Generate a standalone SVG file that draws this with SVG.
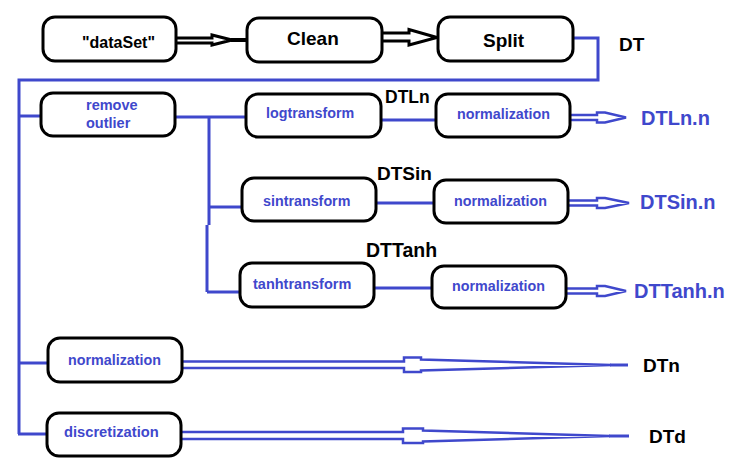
<svg xmlns="http://www.w3.org/2000/svg" width="745" height="476" viewBox="0 0 745 476">
<style>
.box{fill:#fff;stroke:#000;stroke-width:3}
.blk{font-family:"Liberation Sans",Arial,sans-serif;font-weight:bold;fill:#000}
.blu{font-family:"Liberation Sans",Arial,sans-serif;font-weight:bold;fill:#3F48CC}
.bl{fill:none;stroke:#3F48CC;stroke-width:3}
.bla{fill:#fff;stroke:#3F48CC;stroke-width:2.5;stroke-linejoin:miter}
.ka{fill:#fff;stroke:#000;stroke-width:3}
</style>
<rect width="745" height="476" fill="#fff"/>
<g id="connectors">
<path class="bl" d="M573,38 H598 V80 H19 V434"/>
<path class="bl" d="M19,116 H41"/>
<path class="bl" d="M175,117 H246"/>
<path class="bl" d="M209,117 V225 M207,225 V292"/>
<path class="bl" d="M209,207 H242"/>
<path class="bl" d="M207,292 H240"/>
<path class="bl" d="M381,120 H436"/>
<path class="bl" d="M376,203 H434"/>
<path class="bl" d="M374,288 H432"/>
<path class="bl" d="M18,363 H48"/>
<path class="bl" d="M18,434 H47"/>
<path class="ka" d="M177,38 H212 V35 L232,40 L212,45 V43 H177"/>
<path d="M231,40 H247" stroke="#000" stroke-width="4"/>
<path class="ka" d="M382,33 H409 V29.5 L437,37.5 L409,45 V41 H382"/>
<path class="bla" d="M570,115 H597 V112.5 H605 L626,117.5 L605,122.5 H597 V120 H570"/>
<path class="bla" d="M568,200.5 H597 V198 H605 L629,203 L605,208 H597 V205.5 H568"/>
<path class="bla" d="M566,288.5 H597 V286 H605 L626,291 L605,296 H597 V293.5 H566"/>
<path class="bla" d="M183,361.5 H404 V357.5 H421 V359.5 L611,365 L421,370.5 V372 H404 V368 H183"/>
<path class="bl" d="M610,365 H628"/>
<path class="bla" d="M182,432 H403 V428.5 H423 V430.5 L610,436 L423,441.5 V443 H403 V439 H182"/>
<path class="bl" d="M609,436 H629"/>
</g>
<g id="dataset"><rect class="box" x="43" y="17" width="133" height="44" rx="12"/><text class="blk" x="82" y="48" font-size="16">"dataSet"</text></g>
<g id="clean"><rect class="box" x="247" y="18" width="135" height="44" rx="12"/><text class="blk" x="287" y="45" font-size="19">Clean</text></g>
<g id="split"><rect class="box" x="438" y="17" width="135" height="44" rx="12"/><text class="blk" x="483" y="47" font-size="19">Split</text></g>
<g id="lbl-dt"><text class="blk" x="619" y="51" font-size="19">DT</text></g>
<g id="remove-outlier"><rect class="box" x="41" y="93" width="134" height="43" rx="12"/><text class="blu" x="86" y="110" font-size="14.5">remove</text><text class="blu" x="86" y="128" font-size="14.5">outlier</text></g>
<g id="logtransform"><rect class="box" x="246" y="94" width="135" height="43" rx="12"/><text class="blu" x="266" y="118" font-size="14.3">logtransform</text></g>
<g id="lbl-dtln"><text class="blk" x="385" y="103" font-size="17.5">DTLn</text></g>
<g id="norm1"><rect class="box" x="436" y="94" width="134" height="43" rx="12"/><text class="blu" x="457" y="119" font-size="14.3">normalization</text></g>
<g id="lbl-dtlnn"><text class="blu" x="641" y="125" font-size="20">DTLn.n</text></g>
<g id="sintransform"><rect class="box" x="242" y="178" width="134" height="43" rx="12"/><text class="blu" x="263" y="206" font-size="14.3">sintransform</text></g>
<g id="lbl-dtsin"><text class="blk" x="377" y="180" font-size="19">DTSin</text></g>
<g id="norm2"><rect class="box" x="434" y="180" width="134" height="43" rx="12"/><text class="blu" x="454" y="206" font-size="14.3">normalization</text></g>
<g id="lbl-dtsinn"><text class="blu" x="640" y="209" font-size="20">DTSin.n</text></g>
<g id="tanhtransform"><rect class="box" x="240" y="263" width="134" height="44" rx="12"/><text class="blu" x="253" y="289" font-size="14.5">tanhtransform</text></g>
<g id="lbl-dttanh"><text class="blk" x="366" y="257" font-size="19.5">DTTanh</text></g>
<g id="norm3"><rect class="box" x="432" y="266" width="134" height="42" rx="12"/><text class="blu" x="452" y="291" font-size="14.3">normalization</text></g>
<g id="lbl-dttanhn"><text class="blu" x="634" y="298" font-size="20">DTTanh.n</text></g>
<g id="norm4"><rect class="box" x="48" y="338" width="134" height="44" rx="12"/><text class="blu" x="68" y="365" font-size="14.3">normalization</text></g>
<g id="lbl-dtn"><text class="blk" x="643" y="372" font-size="19">DTn</text></g>
<g id="discretization"><rect class="box" x="47" y="413" width="134" height="43" rx="12"/><text class="blu" x="64" y="437" font-size="14.7">discretization</text></g>
<g id="lbl-dtd"><text class="blk" x="649" y="443" font-size="19">DTd</text></g>
</svg>
